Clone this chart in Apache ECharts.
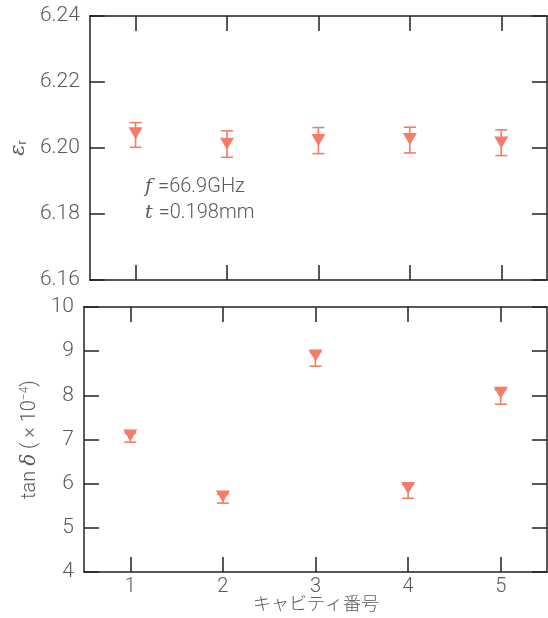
<!DOCTYPE html>
<html>
<head>
<meta charset="utf-8">
<script src="https://cdn.jsdelivr.net/npm/echarts@6/dist/echarts.min.js"></script>
<style>
  html, body { margin: 0; padding: 0; background: #fff; }
  #main { width: 548px; height: 618px; }
</style>
</head>
<body>
<div id="main"></div>
<script>
// キャビティ番号
var cavities = ['1', '2', '3', '4', '5'];

// 比誘電率 εr
var epsVals = [6.2045, 6.2013, 6.2024, 6.2027, 6.2017];
var epsLow = [6.2002, 6.1972, 6.1983, 6.1985, 6.1977];
var epsHigh = [6.2077, 6.2052, 6.2062, 6.2063, 6.2055];
var epsTicks = [6.16, 6.18, 6.20, 6.22, 6.24];

// 誘電正接 tanδ (×10^-4)
var tanVals = [7.09, 5.71, 8.90, 5.90, 8.06];
var tanLow = [6.94, 5.56, 8.66, 5.67, 7.80];
var tanHigh = [7.14, 5.76, 8.98, 5.98, 8.12];
var tanTicks = [4, 5, 6, 7, 8, 9, 10];

var markColor = '#f47c69';
var axisColor = '#222';
var textColor = '#5a5a5a';
var labelFont = 'Roboto';

var myChart = echarts.init(document.getElementById('main'));

function errBar(lows, highs) {
    return lows.map(function (v, i) { return [i, v, highs[i]]; });
}

function renderErr(params, api) {
    var lo = api.coord([api.value(0), api.value(1)]);
    var hi = api.coord([api.value(0), api.value(2)]);
    var w = 6;
    var st = { stroke: markColor, lineWidth: 1.6 };
    return {
        type: 'group',
        children: [
            { type: 'line', shape: { x1: lo[0], y1: lo[1], x2: hi[0], y2: hi[1] }, style: st },
            { type: 'line', shape: { x1: lo[0] - w, y1: lo[1], x2: lo[0] + w, y2: lo[1] }, style: st },
            { type: 'line', shape: { x1: hi[0] - w, y1: hi[1], x2: hi[0] + w, y2: hi[1] }, style: st }
        ]
    };
}

function xAx(gridIndex, pos, showLabel) {
    return {
        type: 'category',
        gridIndex: gridIndex,
        position: pos,
        data: cavities,
        boundaryGap: true,
        axisLine: { show: true, lineStyle: { color: axisColor, width: 1.5 } },
        axisTick: { show: true, inside: true, alignWithLabel: true, length: 15, lineStyle: { color: axisColor, width: 1.5 } },
        axisLabel: { show: showLabel, color: textColor, fontSize: 20, fontWeight: 300, fontFamily: labelFont, margin: 5 },
        splitLine: { show: false }
    };
}

function yAx(gridIndex, pos, ticks, showLabel, fmt, extra) {
    var o = {
        type: 'value',
        gridIndex: gridIndex,
        position: pos,
        min: ticks[0],
        max: ticks[ticks.length - 1],
        interval: ticks[1] - ticks[0],
        axisLine: { show: true, lineStyle: { color: axisColor, width: 1.5 } },
        axisTick: { show: true, inside: true, length: 15, lineStyle: { color: axisColor, width: 1.5 } },
        axisLabel: { show: showLabel, color: textColor, fontSize: 21, fontWeight: 300, fontFamily: labelFont, margin: 10, formatter: fmt },
        splitLine: { show: false }
    };
    for (var k in extra) o[k] = extra[k];
    return o;
}

option = {
    backgroundColor: '#fff',
    animation: false,
    grid: [
        { left: 84, right: 1, top: 16, height: 264 },
        { left: 84, right: 1, top: 307, height: 265 }
    ],
    xAxis: [
        xAx(0, 'bottom', false),
        xAx(0, 'top', false),
        xAx(1, 'bottom', true),
        xAx(1, 'top', false)
    ],
    yAxis: [
        yAx(0, 'left', epsTicks, true, function (v) { return v.toFixed(2); }, {
            name: '{e|ε}{s|r}',
            nameLocation: 'middle',
            nameRotate: 90,
            nameGap: 60,
            nameTextStyle: {
                rich: {
                    e: { fontSize: 21, fontStyle: 'italic', color: textColor, fontFamily: 'DejaVu Serif' },
                    s: { fontSize: 12, color: textColor, fontFamily: labelFont, verticalAlign: 'bottom', padding: [8, 0, 0, 0] }
                }
            }
        }),
        yAx(0, 'right', epsTicks, false, null, {}),
        yAx(1, 'left', tanTicks, true, null, {
            name: '{n|tan }{d|δ}{n| ( × 10}{p|−4}{n|)}',
            nameLocation: 'middle',
            nameRotate: 90,
            nameGap: 38,
            nameTextStyle: {
                rich: {
                    n: { fontSize: 20, fontWeight: 300, color: textColor, fontFamily: labelFont },
                    d: { fontSize: 20, fontStyle: 'italic', color: textColor, fontFamily: 'DejaVu Serif' },
                    p: { fontSize: 12, fontWeight: 300, color: textColor, fontFamily: labelFont, padding: [0, 0, 10, 0] }
                }
            }
        }),
        yAx(1, 'right', tanTicks, false, null, {})
    ],
    graphic: [
        {
            type: 'text',
            left: 145,
            top: 177,
            style: {
                text: '{i|f }{n|=66.9GHz}\n{i|t }{n|=0.198mm}',
                rich: {
                    i: { fontSize: 19, fontStyle: 'italic', fill: textColor, fontFamily: 'DejaVu Serif', lineHeight: 26 },
                    n: { fontSize: 20, fontWeight: 300, fill: textColor, fontFamily: labelFont, lineHeight: 26 }
                }
            }
        },
        {
            type: 'text',
            left: 253,
            top: 594,
            style: {
                text: 'キャビティ番号',
                fontSize: 18,
                fontWeight: 300,
                fill: textColor,
                fontFamily: 'Noto Sans CJK JP'
            }
        }
    ],
    series: [
        {
            type: 'custom',
            xAxisIndex: 0,
            yAxisIndex: 0,
            renderItem: renderErr,
            data: errBar(epsLow, epsHigh),
            z: 2
        },
        {
            type: 'scatter',
            xAxisIndex: 0,
            yAxisIndex: 0,
            symbol: 'triangle',
            symbolRotate: 180,
            symbolSize: [14, 12],
            itemStyle: { color: markColor, opacity: 1 },
            data: epsVals,
            z: 3
        },
        {
            type: 'custom',
            xAxisIndex: 2,
            yAxisIndex: 2,
            renderItem: renderErr,
            data: errBar(tanLow, tanHigh),
            z: 2
        },
        {
            type: 'scatter',
            xAxisIndex: 2,
            yAxisIndex: 2,
            symbol: 'triangle',
            symbolRotate: 180,
            symbolSize: [14, 12],
            itemStyle: { color: markColor, opacity: 1 },
            data: tanVals,
            z: 3
        }
    ]
};

myChart.setOption(option);
</script>
</body>
</html>
